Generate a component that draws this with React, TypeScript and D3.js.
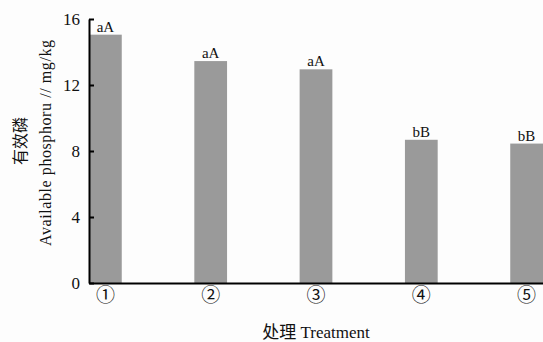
import React, { useEffect, useRef } from "react";
import * as d3 from "d3";

// data
const treatments: string[] = ["①", "②", "③", "④", "⑤"];
const phosphorus: number[] = [15.05, 13.45, 12.95, 8.68, 8.45];
const letters: string[] = ["aA", "aA", "aA", "bB", "bB"];
const yTicks: number[] = [0, 4, 8, 12, 16];

const W = 543;
const H = 342;
const SERIF = "'Liberation Serif', 'Times New Roman', serif";
const CJK = "'Liberation Serif', 'Noto Sans CJK SC', serif";

export default function App() {
  const ref = useRef<SVGSVGElement | null>(null);

  useEffect(() => {
    const svg = d3.select(ref.current);
    svg.selectAll("*").remove();

    const left = 89, top = 19, bottom = 283, right = 543;

    const x = d3.scaleBand<string>()
      .domain(treatments)
      .range([left, right])
      .paddingInner(0.689)
      .paddingOuter(0);

    const y = d3.scaleLinear().domain([0, 16]).range([bottom, top]);

    svg.append("rect").attr("width", W).attr("height", H).attr("fill", "#fdfdfd");

    // bars
    svg.append("g")
      .selectAll("rect")
      .data(phosphorus)
      .enter().append("rect")
      .attr("x", (d, i) => x(treatments[i]) as number)
      .attr("y", d => y(d))
      .attr("width", x.bandwidth())
      .attr("height", d => y(0) - y(d))
      .attr("fill", "#9a9a9a");

    // significance letters
    svg.append("g")
      .selectAll("text")
      .data(phosphorus)
      .enter().append("text")
      .attr("x", (d, i) => (x(treatments[i]) as number) + x.bandwidth() / 2)
      .attr("y", d => y(d) - 3)
      .attr("text-anchor", "middle")
      .attr("font-family", SERIF)
      .attr("font-size", 15)
      .attr("fill", "#111")
      .text((d, i) => letters[i]);

    // y axis, ticks point inward
    const yAxis = d3.axisLeft(y)
      .tickValues(yTicks)
      .tickSizeInner(-5)
      .tickSizeOuter(0)
      .tickPadding(9);

    const gy = svg.append("g")
      .attr("transform", `translate(${left},0)`)
      .call(yAxis);
    gy.select(".domain").attr("stroke", "#000").attr("stroke-width", 2);
    gy.selectAll(".tick line").attr("stroke", "#000").attr("stroke-width", 2);
    gy.selectAll(".tick text")
      .attr("font-family", SERIF)
      .attr("font-size", 17)
      .attr("fill", "#111");

    // x axis
    const xAxis = d3.axisBottom(x).tickSize(0).tickPadding(5);
    const gx = svg.append("g")
      .attr("transform", `translate(0,${bottom})`)
      .call(xAxis);
    gx.select(".domain").attr("stroke", "#000").attr("stroke-width", 2);
    gx.selectAll(".tick text")
      .attr("font-family", CJK)
      .attr("font-size", 19)
      .attr("fill", "#111")
      .attr("dy", "0.72em");

    // axis titles
    svg.append("text")
      .attr("transform", "translate(26,141) rotate(-90)")
      .attr("text-anchor", "middle")
      .attr("font-family", CJK)
      .attr("font-size", 16)
      .attr("fill", "#111")
      .text("有效磷");

    svg.append("text")
      .attr("transform", "translate(51,143) rotate(-90)")
      .attr("text-anchor", "middle")
      .attr("font-family", SERIF)
      .attr("font-size", 16)
      .attr("textLength", 206)
      .attr("fill", "#111")
      .text("Available phosphoru // mg/kg");

    svg.append("text")
      .attr("x", 316)
      .attr("y", 338)
      .attr("text-anchor", "middle")
      .attr("font-family", CJK)
      .attr("font-size", 17)
      .attr("fill", "#111")
      .text("处理 Treatment");
  }, []);

  return (
    <svg
      ref={ref}
      width={W}
      height={H}
      style={{ position: "absolute", left: 0, top: 0, display: "block" }}
    />
  );
}
